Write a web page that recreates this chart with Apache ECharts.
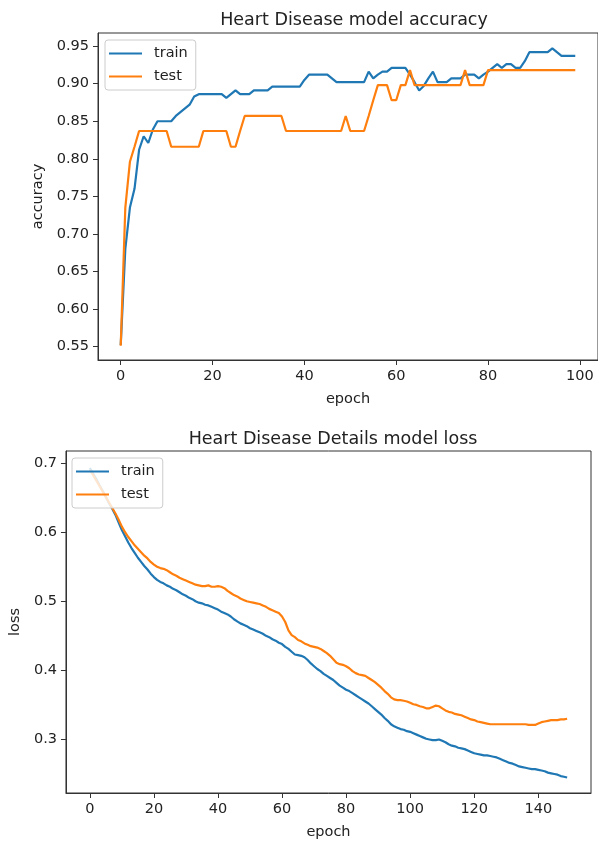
<!DOCTYPE html>
<html>
<head>
<meta charset="utf-8">
<script src="https://cdn.jsdelivr.net/npm/echarts@6/dist/echarts.min.js"></script>
<style>
  html, body { margin: 0; padding: 0; background: #fff; }
  #main { width: 598px; height: 846px; }
</style>
</head>
<body>
<div id="main"></div>
<script>
// accuracy per epoch (0..99)
var accTrain = [0.552, 0.680, 0.735, 0.760, 0.812, 0.830, 0.821, 0.839, 0.850, 0.850,
  0.850, 0.850, 0.857, 0.862, 0.867, 0.872, 0.883, 0.886, 0.886, 0.886,
  0.886, 0.886, 0.886, 0.881, 0.886, 0.891, 0.886, 0.886, 0.886, 0.891,
  0.891, 0.891, 0.891, 0.896, 0.896, 0.896, 0.896, 0.896, 0.896, 0.896,
  0.905, 0.912, 0.912, 0.912, 0.912, 0.912, 0.907, 0.902, 0.902, 0.902,
  0.902, 0.902, 0.902, 0.902, 0.916, 0.907, 0.912, 0.916, 0.916, 0.921,
  0.921, 0.921, 0.921, 0.912, 0.902, 0.891, 0.897, 0.907, 0.916, 0.902,
  0.902, 0.902, 0.907, 0.907, 0.907, 0.912, 0.912, 0.912, 0.907, 0.912,
  0.916, 0.921, 0.926, 0.921, 0.926, 0.926, 0.921, 0.921, 0.930, 0.942,
  0.942, 0.942, 0.942, 0.942, 0.947, 0.942, 0.937, 0.937, 0.937, 0.937];
var accTest = [0.551, 0.735, 0.796, 0.816, 0.837, 0.837, 0.837, 0.837, 0.837, 0.837,
  0.837, 0.816, 0.816, 0.816, 0.816, 0.816, 0.816, 0.816, 0.837, 0.837,
  0.837, 0.837, 0.837, 0.837, 0.816, 0.816, 0.837, 0.857, 0.857, 0.857,
  0.857, 0.857, 0.857, 0.857, 0.857, 0.857, 0.837, 0.837, 0.837, 0.837,
  0.837, 0.837, 0.837, 0.837, 0.837, 0.837, 0.837, 0.837, 0.837, 0.857,
  0.837, 0.837, 0.837, 0.837, 0.857, 0.878, 0.898, 0.898, 0.898, 0.878,
  0.878, 0.898, 0.898, 0.918, 0.898, 0.898, 0.898, 0.898, 0.898, 0.898,
  0.898, 0.898, 0.898, 0.898, 0.898, 0.918, 0.898, 0.898, 0.898, 0.898,
  0.918, 0.918, 0.918, 0.918, 0.918, 0.918, 0.918, 0.918, 0.918, 0.918,
  0.918, 0.918, 0.918, 0.918, 0.918, 0.918, 0.918, 0.918, 0.918, 0.918];

// loss per epoch (0..149)
var lossTrain = [0.693, 0.685, 0.677, 0.668, 0.660, 0.651, 0.642, 0.634, 0.625, 0.614,
  0.603, 0.594, 0.585, 0.577, 0.570, 0.563, 0.557, 0.551, 0.546, 0.540,
  0.535, 0.531, 0.528, 0.526, 0.523, 0.521, 0.518, 0.516, 0.513, 0.510,
  0.508, 0.505, 0.503, 0.500, 0.498, 0.497, 0.495, 0.494, 0.492, 0.490,
  0.488, 0.485, 0.483, 0.481, 0.478, 0.474, 0.471, 0.468, 0.466, 0.464,
  0.461, 0.459, 0.457, 0.455, 0.453, 0.450, 0.448, 0.445, 0.443, 0.440,
  0.438, 0.434, 0.431, 0.427, 0.423, 0.422, 0.421, 0.419, 0.415, 0.410,
  0.406, 0.402, 0.399, 0.395, 0.392, 0.389, 0.386, 0.382, 0.378, 0.375,
  0.372, 0.370, 0.367, 0.364, 0.361, 0.358, 0.355, 0.352, 0.348, 0.344,
  0.340, 0.336, 0.331, 0.327, 0.322, 0.319, 0.317, 0.315, 0.314, 0.312,
  0.311, 0.309, 0.307, 0.305, 0.303, 0.301, 0.300, 0.299, 0.299, 0.300,
  0.298, 0.296, 0.293, 0.291, 0.290, 0.288, 0.287, 0.286, 0.284, 0.282,
  0.280, 0.279, 0.278, 0.277, 0.277, 0.276, 0.275, 0.274, 0.272, 0.270,
  0.268, 0.266, 0.265, 0.263, 0.261, 0.260, 0.259, 0.258, 0.257, 0.257,
  0.256, 0.255, 0.254, 0.252, 0.251, 0.250, 0.249, 0.247, 0.246, 0.245];
var lossTest = [0.690, 0.683, 0.675, 0.667, 0.659, 0.651, 0.643, 0.635, 0.627, 0.618,
  0.608, 0.600, 0.593, 0.587, 0.581, 0.576, 0.571, 0.566, 0.562, 0.557,
  0.553, 0.550, 0.548, 0.547, 0.545, 0.542, 0.539, 0.537, 0.534, 0.532,
  0.530, 0.528, 0.526, 0.524, 0.523, 0.522, 0.522, 0.523, 0.521, 0.521,
  0.522, 0.521, 0.519, 0.515, 0.512, 0.509, 0.507, 0.504, 0.502, 0.500,
  0.499, 0.498, 0.497, 0.496, 0.494, 0.492, 0.489, 0.487, 0.485, 0.483,
  0.478, 0.470, 0.458, 0.451, 0.448, 0.444, 0.442, 0.439, 0.437, 0.435,
  0.434, 0.433, 0.431, 0.428, 0.425, 0.421, 0.416, 0.411, 0.409, 0.408,
  0.406, 0.403, 0.399, 0.396, 0.394, 0.393, 0.392, 0.389, 0.386, 0.383,
  0.379, 0.375, 0.370, 0.366, 0.361, 0.358, 0.357, 0.357, 0.356, 0.355,
  0.353, 0.351, 0.350, 0.348, 0.347, 0.345, 0.345, 0.347, 0.349, 0.348,
  0.345, 0.342, 0.340, 0.339, 0.337, 0.336, 0.335, 0.333, 0.331, 0.329,
  0.328, 0.326, 0.325, 0.324, 0.323, 0.322, 0.322, 0.322, 0.322, 0.322,
  0.322, 0.322, 0.322, 0.322, 0.322, 0.322, 0.322, 0.321, 0.321, 0.321,
  0.323, 0.325, 0.326, 0.327, 0.328, 0.328, 0.328, 0.329, 0.329, 0.330];

// tick labels
var accXTicks = [0, 20, 40, 60, 80, 100];
var accYTicks = [0.55, 0.60, 0.65, 0.70, 0.75, 0.80, 0.85, 0.90, 0.95];
var lossXTicks = [0, 20, 40, 60, 80, 100, 120, 140];
var lossYTicks = [0.3, 0.4, 0.5, 0.6, 0.7];

var FONT = 'DejaVu Sans';
var TXT = '#222';
var FRAME = '#333';
var BLUE = '#1f77b4';
var ORANGE = '#ff7f0e';
// short flat bar used as the legend key
var LEGEND_ICON = 'path://M0,0 L33,0 L33,2.2 L0,2.2 Z';

function pairs(arr) {
  return arr.map(function (v, i) { return [i, v]; });
}

function xAxisOf(gridIndex, min, max, ticks) {
  return {
    type: 'value', gridIndex: gridIndex, min: min, max: max,
    name: 'epoch', nameLocation: 'middle', nameGap: 32,
    nameTextStyle: { fontFamily: FONT, fontSize: 14.5, color: TXT },
    axisLine: { show: true, onZero: false, lineStyle: { color: FRAME, width: 1 } },
    axisTick: { show: true, length: 5, customValues: ticks, lineStyle: { color: FRAME } },
    axisLabel: { margin: 9, customValues: ticks, fontFamily: FONT, fontSize: 14.5, color: TXT },
    splitLine: { show: false }
  };
}

function yAxisOf(gridIndex, min, max, ticks, name, digits, gap) {
  return {
    type: 'value', gridIndex: gridIndex, min: min, max: max,
    name: name, nameLocation: 'middle', nameGap: gap,
    nameTextStyle: { fontFamily: FONT, fontSize: 14.5, color: TXT },
    axisLine: { show: true, onZero: false, lineStyle: { color: FRAME, width: 1 } },
    axisTick: { show: true, length: 5, customValues: ticks, lineStyle: { color: FRAME } },
    axisLabel: {
      margin: 9, customValues: ticks, fontFamily: FONT, fontSize: 14.5, color: TXT,
      formatter: function (v) { return v.toFixed(digits); }
    },
    splitLine: { show: false }
  };
}

function lineOf(name, data, color, idx) {
  return {
    name: name, type: 'line', xAxisIndex: idx, yAxisIndex: idx,
    data: pairs(data), showSymbol: false, symbol: 'none',
    lineStyle: { color: color, width: 2.2 }, itemStyle: { color: color },
    animation: false
  };
}

var legendCommon = {
  orient: 'vertical', itemWidth: 33, itemHeight: 14, itemGap: 8,
  icon: LEGEND_ICON,
  backgroundColor: 'rgba(255,255,255,0.8)', borderColor: '#ccc', borderWidth: 1,
  borderRadius: 3, padding: [6, 8, 6, 4],
  textStyle: { fontFamily: FONT, fontSize: 14.5, color: TXT, padding: [0, 0, 0, 7] },
  data: ['train', 'test']
};

var chart = echarts.init(document.getElementById('main'), null, { renderer: 'canvas' });
chart.setOption({
  animation: false,
  backgroundColor: '#fff',
  title: [
    { text: 'Heart Disease model accuracy', left: 349, top: 6, textAlign: 'center',
      textStyle: { fontFamily: FONT, fontSize: 17.5, fontWeight: 'normal', color: TXT } },
    { text: 'Heart Disease Details model loss', left: 328, top: 425, textAlign: 'center',
      textStyle: { fontFamily: FONT, fontSize: 17.5, fontWeight: 'normal', color: TXT } }
  ],
  legend: [
    Object.assign({}, legendCommon, { left: 105, top: 40 }),
    Object.assign({}, legendCommon, { left: 72, top: 458 })
  ],
  grid: [
    { left: 98, right: -2, top: 33, bottom: 486, show: true, borderColor: FRAME, borderWidth: 1 },
    { left: 65, right: 7, top: 451, bottom: 53, show: true, borderColor: FRAME, borderWidth: 1 }
  ],
  xAxis: [
    xAxisOf(0, -4.95, 103.95, accXTicks),
    xAxisOf(1, -7.45, 156.45, lossXTicks)
  ],
  yAxis: [
    yAxisOf(0, 0.532, 0.9675, accYTicks, 'accuracy', 2, 46),
    yAxisOf(1, 0.2225, 0.7175, lossYTicks, 'loss', 1, 42)
  ],
  series: [
    lineOf('train', accTrain, BLUE, 0),
    lineOf('test', accTest, ORANGE, 0),
    lineOf('train', lossTrain, BLUE, 1),
    lineOf('test', lossTest, ORANGE, 1)
  ]
});
</script>
</body>
</html>
